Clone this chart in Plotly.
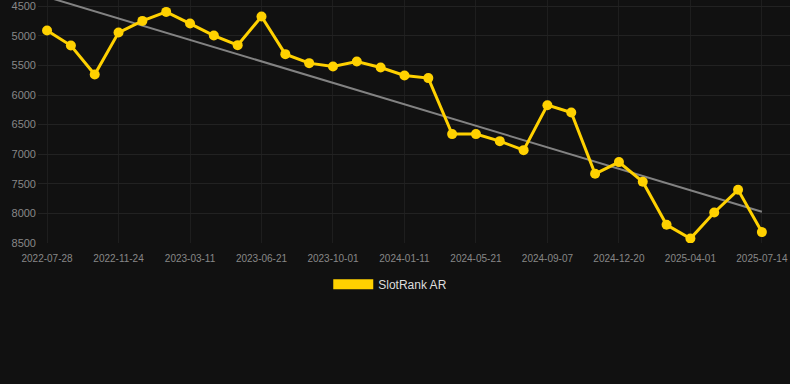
import plotly.graph_objects as go

dates = [
    "2022-07-28", "2022-09-06", "2022-10-15", "2022-11-24", "2022-12-29", "2023-02-03",
    "2023-03-11", "2023-04-14", "2023-05-18", "2023-06-21", "2023-07-27", "2023-08-26",
    "2023-10-01", "2023-11-06", "2023-12-10", "2024-01-11", "2024-02-24", "2024-04-07",
    "2024-05-21", "2024-06-27", "2024-08-02", "2024-09-07", "2024-10-12", "2024-11-15",
    "2024-12-20", "2025-01-23", "2025-02-26", "2025-04-01", "2025-05-05", "2025-06-09",
    "2025-07-14",
]
rank = [
    4910, 5164, 5654, 4944, 4747, 4595, 4792, 4995, 5157, 4674, 5309, 5461,
    5518, 5434, 5535, 5670, 5714, 6660, 6660, 6779, 6931, 6171, 6295, 7331,
    7133, 7466, 8193, 8424, 7985, 7601, 8316,
]
trend_x = [dates[0], dates[-1]]
trend_y = [4343, 7971]

tick_vals = dates[::3]
y_ticks = [4500, 5000, 5500, 6000, 6500, 7000, 7500, 8000, 8500]

GOLD = "#FFD100"
BG = "#111111"

fig = go.Figure()
fig.add_trace(go.Scatter(
    x=trend_x, y=trend_y, mode="lines",
    line=dict(color="rgba(150,150,150,0.85)", width=2),
    showlegend=False, hoverinfo="skip",
))
fig.add_trace(go.Scatter(
    x=dates, y=rank, mode="lines+markers",
    line=dict(color=GOLD, width=3),
    marker=dict(color=GOLD, size=10),
    showlegend=False, name="SlotRank AR",
))
fig.add_trace(go.Scatter(
    x=[None], y=[None], mode="lines",
    line=dict(color=GOLD, width=12),
    name="SlotRank AR", showlegend=True,
))

fig.update_layout(
    width=790, height=384,
    paper_bgcolor=BG, plot_bgcolor=BG,
    margin=dict(l=38, r=0, t=0, b=141, autoexpand=False),
    font=dict(family="Liberation Sans, Arial, sans-serif", color="#888888"),
    legend=dict(
        orientation="h", xref="container", x=0.494, xanchor="center",
        yref="container", y=0.26, yanchor="middle",
        font=dict(size=12, color="#dddddd"), itemwidth=40,
        bgcolor="rgba(0,0,0,0)",
    ),
    xaxis=dict(
        type="category", categoryorder="array", categoryarray=dates,
        range=[-0.38, 31.18], automargin=False,
        tickvals=tick_vals, ticktext=tick_vals,
        tickfont=dict(size=10, color="#888888"),
        ticklabelstandoff=8, ticklabeloverflow="allow",
        showgrid=True, gridcolor="#1e1e1e", gridwidth=1,
        zeroline=False, showline=False, ticks="",
    ),
    yaxis=dict(
        range=[8500, 4394], automargin=False,
        tickvals=y_ticks,
        tickfont=dict(size=11, color="#888888"),
        ticklabelstandoff=1, ticklabeloverflow="allow",
        showgrid=True, gridcolor="#222222", gridwidth=1,
        zeroline=False, showline=False, ticks="",
    ),
)

fig.write_html(
    "out.html",
    config={"displayModeBar": False},
    post_script="document.body.style.margin='0';document.body.style.background='#111111';",
)
